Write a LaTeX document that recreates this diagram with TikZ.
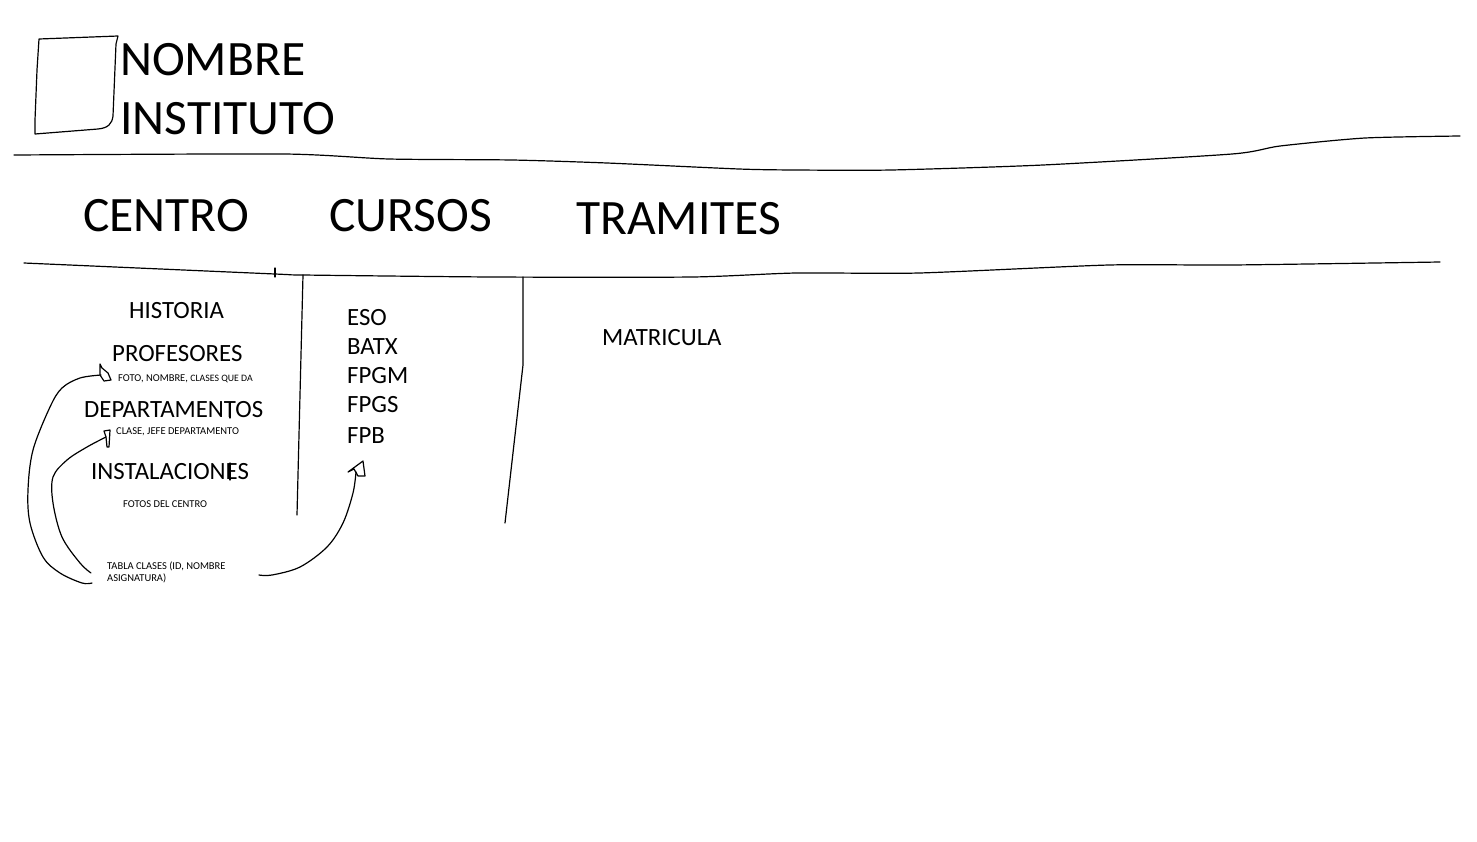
\documentclass[tikz,border=0pt]{standalone}
\usepackage{fontspec}
\setmainfont{Carlito}
\begin{document}
\begin{tikzpicture}[x=1pt,y=-1pt,
  pen/.style={line width=1.2pt,line join=round,line cap=round},
  big/.style={anchor=base west,inner sep=0pt,font=\fontsize{49.5}{56}\selectfont},
  mid/.style={anchor=base west,inner sep=0pt,font=\fontsize{24.8}{28}\selectfont},
  tiny/.style={anchor=base west,inner sep=0pt,font=\fontsize{10.5}{13}\selectfont}]
\fill[white] (0,0) rectangle (1477,841);
\useasboundingbox (0,0) rectangle (1477,841);
% logo box
\draw[pen] (39,39) -- (118,36) -- (116,44) -- (113,116) .. controls (112,124) and (108,128) .. (98,129) -- (35,134) -- (35,120) -- (37,70) -- (39,39);
% titles
\node[big] (nombre) at (120,75) {NOMBRE};
\node[big] (instituto) at (120,134) {INSTITUTO};
% top wavy line
\draw[pen] plot[smooth,tension=0.4] coordinates {(14,155) (284,154) (389,159) (512,160) (607,163) (739,169) (796,170) (891,170) (1043,165) (1232,154) (1280,146) (1365,138) (1460,136)};
% menu
\node[big] (centro) at (83,231) {CENTRO};
\node[big] (cursos) at (329,231) {CURSOS};
\node[big] (tramites) at (576,234) {TRAMITES};
% lower line
\draw[pen] plot[smooth,tension=0.4] coordinates {(24,263) (275,274) (303,275) (493,277) (692,277) (796,273) (919,273) (1109,265) (1232,265) (1440,262)};
\draw[pen] (275,268) -- (275,277);
% column separators
\draw[pen] (303,275) -- (297,515);
\draw[pen] (523,277) -- (523,365) -- (505,523);
% centro column
\node[mid] (historia) at (129,318) {HISTORIA};
\node[mid] (profesores) at (112,361) {PROFESORES};
\node[tiny] (fotonombre) at (118,381) {FOTO, NOMBRE, {\fontsize{9.8}{12}\selectfont CLASES QUE DA}};
\node[mid] (departamentos) at (84,417) {DEPARTAMENTOS};
\draw[pen] (230,403) -- (230,418);
\node[tiny] (clase) at (116,434) {CLASE, JEFE DEPARTAMENTO};
\node[mid] (instalaciones) at (91,479) {INSTALACIONES};
\draw[pen] (230,463) -- (230,480);
\node[tiny] (fotos) at (123,507) {FOTOS DEL CENTRO};
\node[tiny,align=left,anchor=north west] (tabla) at (107,562) {TABLA CLASES (ID, NOMBRE\\[-1.5pt]ASIGNATURA)};
% cursos column
\node[mid] (eso) at (347,325) {ESO};
\node[mid] (batx) at (347,354) {BATX};
\node[mid] (fpgm) at (347,383) {FPGM};
\node[mid] (fpgs) at (347,412) {FPGS};
\node[mid] (fpb) at (347,443) {FPB};
% tramites column
\node[mid] (matricula) at (602,345) {MATRICULA};
% arrows
\coordinate (a1s) at (92,583);
\coordinate (a1e) at (101,375);
\draw[pen] plot[smooth,tension=0.55] coordinates {(a1s) (82,583) (60,573) (43,557) (30,523) (28,490) (33,450) (50,407) (62,388) (80,378) (a1e)};
\draw[pen] (100,364) -- (100,375) -- (104,381) -- (111,380) -- (108,373) -- (102,368) -- cycle;
\coordinate (a2s) at (91,573);
\coordinate (a2e) at (106,437);
\draw[pen] plot[smooth,tension=0.55] coordinates {(a2s) (80,563) (62,537) (53,503) (53,477) (67,460) (87,447) (a2e)};
\draw[pen] (104,431) -- (110,430) -- (109,447) -- (107,447) -- (106,437) -- cycle;
\coordinate (a3s) at (259,575);
\coordinate (a3e) at (356,472);
\draw[pen] plot[smooth,tension=0.55] coordinates {(a3s) (272,575) (300,567) (327,547) (343,523) (353,493) (a3e)};
\draw[pen] (348,472) -- (363,461) -- (365,476) -- (358,476) -- (354,469) -- cycle;
\end{tikzpicture}
\end{document}
